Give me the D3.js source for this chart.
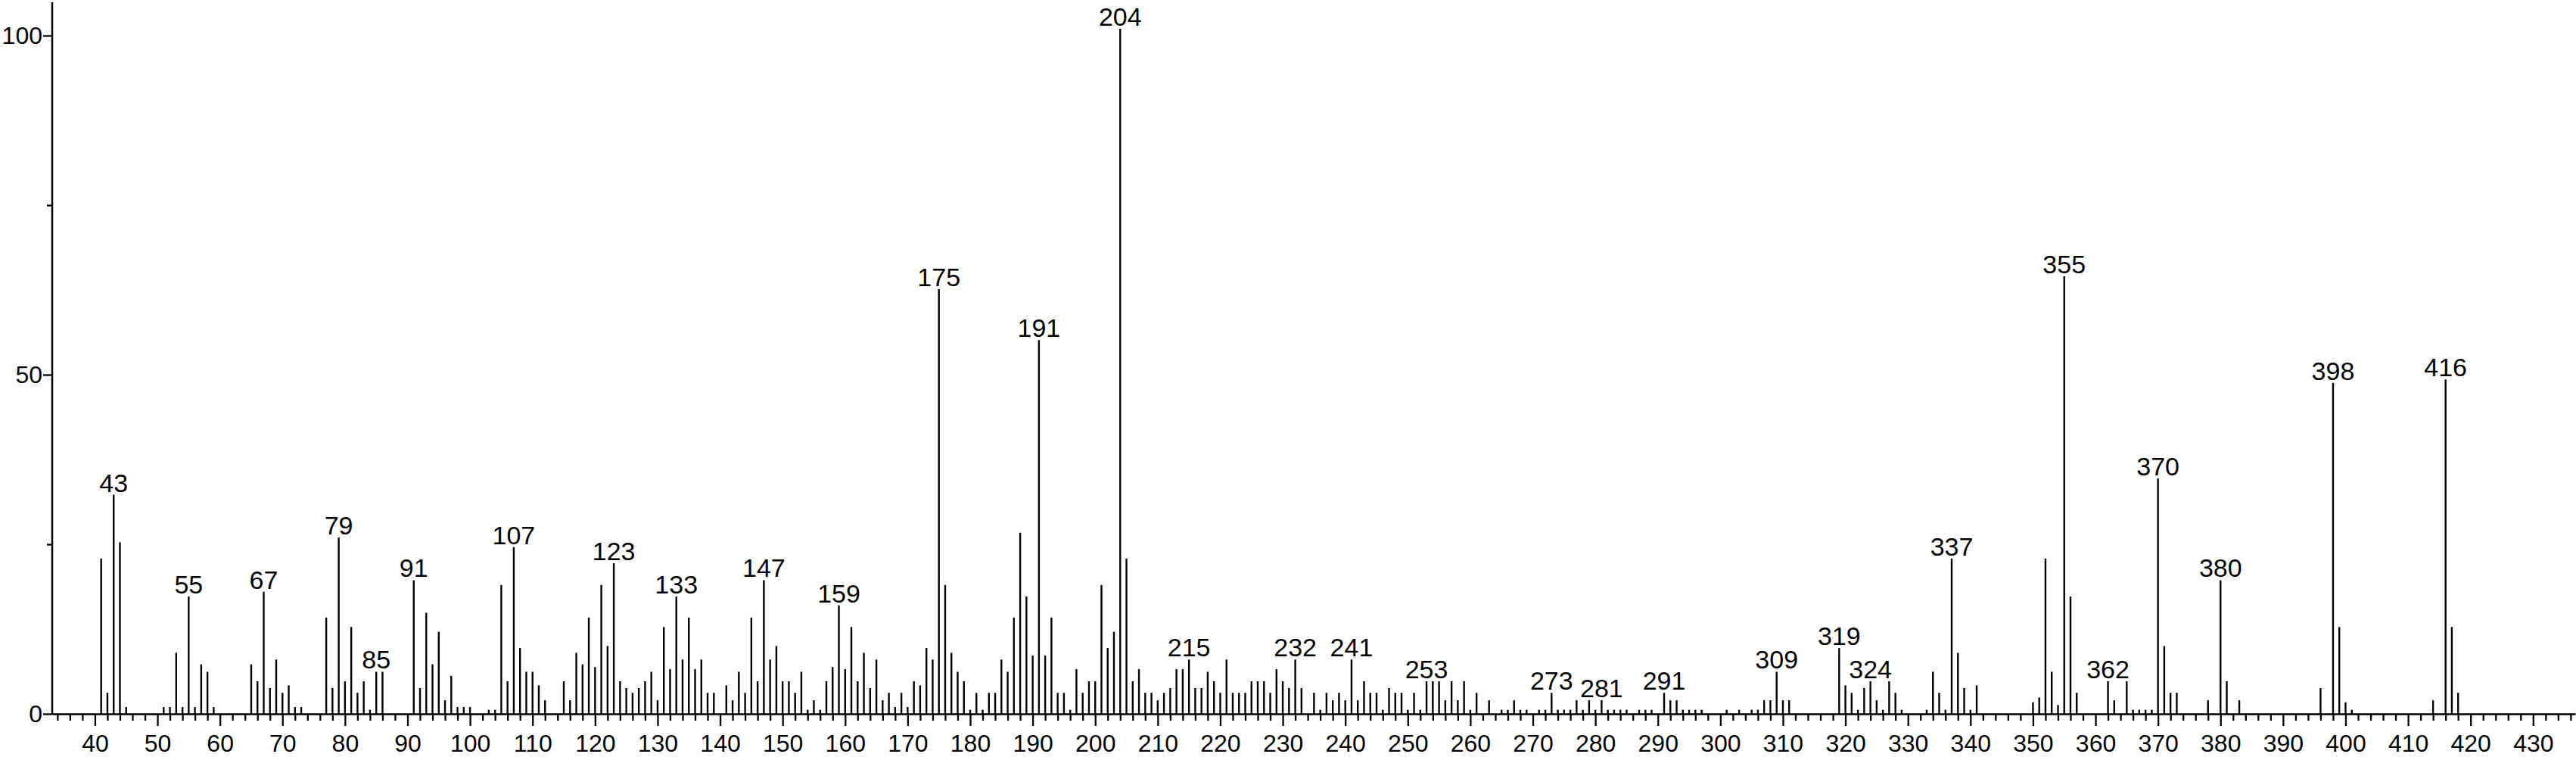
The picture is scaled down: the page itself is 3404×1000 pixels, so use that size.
<!DOCTYPE html>
<html>
<head>
<meta charset="utf-8">
<script src="https://cdn.jsdelivr.net/npm/d3@7"></script>
<style>
  html, body { margin: 0; padding: 0; background: #fff; }
  svg { display: block; }
  text { font-family: "Liberation Sans", Arial, Helvetica, sans-serif; fill: #000; }
</style>
</head>
<body>
<svg id="chart" width="3404" height="1000"></svg>
<script>
// m/z values of the peaks
const mz = [
  41,42,43,44,45,51,52,53,54,55,56,57,58,59,
  65,66,67,68,69,70,71,72,73,77,78,79,80,81,82,83,84,85,86,
  91,92,93,94,95,96,97,98,99,100,103,104,105,106,107,108,109,110,111,112,
  115,116,117,118,119,120,121,122,123,124,125,126,127,128,129,130,
  131,132,133,134,135,136,137,138,139,141,142,143,144,145,146,147,148,149,150,
  151,152,153,154,155,156,157,158,159,160,161,162,163,164,165,166,167,168,169,170,
  171,172,173,174,175,176,177,178,179,180,181,182,183,184,185,186,187,188,189,190,
  191,192,193,194,195,196,197,198,199,200,201,202,203,204,205,206,207,208,209,210,
  211,212,213,214,215,216,217,218,219,220,221,222,223,224,225,226,227,228,229,230,
  231,232,233,235,236,237,238,239,240,241,242,243,244,245,246,247,248,249,250,
  251,252,253,254,255,256,257,258,259,260,261,263,265,266,267,268,269,
  271,272,273,274,275,276,277,278,279,280,281,282,283,284,285,287,288,289,
  291,292,293,294,295,296,297,301,303,305,306,307,308,309,310,311,
  319,320,321,322,323,324,325,326,327,328,329,333,334,335,336,337,338,339,340,341,
  350,351,352,353,354,355,356,357,362,363,365,366,367,368,369,370,371,372,373,
  378,380,381,383,396,398,399,400,401,414,416,417,418
];
// relative intensities (%)
const intensity = [
  22.9,3.1,32.3,25.3,1.0,1.0,1.0,9.0,1.0,17.3,1.0,7.3,6.2,1.0,
  7.3,4.8,18.0,3.8,8.0,3.1,4.2,1.0,1.0,14.2,3.8,26.0,4.8,12.8,3.1,4.8,0.6,6.2,6.2,
  19.7,3.8,14.9,7.3,12.1,2.0,5.6,1.0,1.0,1.0,0.6,0.6,19.0,4.8,24.6,9.7,6.2,6.2,4.2,2.0,
  4.8,2.0,9.0,7.3,14.2,6.9,19.0,10.0,22.2,4.8,3.8,3.1,3.8,4.8,6.2,2.0,
  12.8,6.6,17.3,8.0,14.2,6.6,8.0,3.1,3.1,4.2,2.0,6.2,3.1,14.2,4.8,19.7,8.0,10.0,4.8,
  4.8,3.1,6.2,0.6,2.0,0.6,4.8,6.9,16.0,6.6,12.8,4.8,9.0,3.8,8.0,2.0,3.1,1.0,3.1,1.0,
  4.8,4.2,9.7,8.0,62.6,19.0,9.0,6.2,4.8,0.6,3.1,0.6,3.1,3.1,8.0,6.2,14.2,26.7,17.3,8.6,
  55.1,8.6,14.2,3.1,3.1,0.6,6.6,3.1,4.8,4.8,19.0,9.7,12.1,101,22.9,4.8,6.6,3.1,3.1,2.0,
  3.1,3.8,6.6,6.6,8.0,3.8,3.8,6.2,4.8,3.1,8.0,3.1,3.1,3.1,4.8,4.8,4.8,3.1,6.6,4.8,
  3.8,8.0,3.8,3.1,0.6,3.1,2.0,3.1,2.0,8.0,2.0,4.8,3.1,3.1,0.6,3.8,3.1,3.1,0.6,
  3.1,0.6,4.8,4.8,4.8,2.0,4.8,2.0,4.8,0.6,3.1,2.0,0.6,0.6,2.0,0.6,0.6,
  0.6,0.6,3.1,0.6,0.6,0.6,2.0,0.6,2.0,0.6,2.0,0.6,0.6,0.6,0.6,0.6,0.6,0.6,
  3.1,2.0,2.0,0.6,0.6,0.6,0.6,0.6,0.6,0.6,0.6,2.0,2.0,6.2,2.0,2.0,
  9.7,4.2,3.1,0.6,3.8,4.8,2.0,0.6,4.8,3.1,0.6,0.6,6.2,3.1,0.6,22.9,9.0,3.8,0.6,4.2,
  1.7,2.4,22.9,6.2,1.3,64.5,17.3,3.1,4.8,2.0,4.8,0.6,0.6,0.6,0.6,34.7,10.0,3.1,3.1,
  2.0,19.7,4.8,2.0,3.8,48.8,12.8,1.7,0.6,2.0,49.3,12.8,3.1
];
// peaks that carry an m/z label
const labeledPeaks = [43,55,67,79,85,91,107,123,133,147,159,175,191,204,215,232,241,253,273,281,291,309,319,324,337,355,362,370,380,398,416];
// axis ticks
const xMajorTicks = d3.range(40, 431, 10);
const xMinorTicks = d3.range(34, 437, 2).filter(v => v % 10 !== 0);
const yMajorTicks = [0, 50, 100];
const yMinorTicks = [25, 75];

const peaks = mz.map((m, i) => ({ mz: m, val: intensity[i] }));

const svg = d3.select("#chart");
const x = d3.scaleLinear().domain([33.17, 436.74]).range([69, 3403]);
const y = d3.scaleLinear().domain([0, 100]).range([943, 47]);
const yTop = 104.9;

// x axis minor ticks
svg.append("g")
  .attr("transform", `translate(0,${y(0)})`)
  .call(d3.axisBottom(x).tickValues(xMinorTicks).tickSize(9).tickFormat(""))
  .call(g => g.select(".domain").remove())
  .call(g => g.selectAll("line").attr("stroke", "#000").attr("stroke-width", 2.3));

// x axis major ticks + labels
svg.append("g")
  .attr("transform", `translate(0,${y(0)})`)
  .call(d3.axisBottom(x).tickValues(xMajorTicks).tickSize(16).tickSizeOuter(0).tickPadding(11))
  .call(g => g.select(".domain").attr("stroke", "#000").attr("stroke-width", 2.4))
  .call(g => g.selectAll(".tick line").attr("stroke", "#000").attr("stroke-width", 2.3))
  .call(g => g.selectAll("text").attr("font-size", 32).attr("font-family", "Liberation Sans, Arial, sans-serif").attr("fill", "#000"));

// y axis
svg.append("g").attr("transform", `translate(${x.range()[0]},0)`)
  .call(d3.axisLeft(y).tickValues(yMinorTicks).tickSize(7).tickFormat(""))
  .call(g => g.select(".domain").remove())
  .call(g => g.selectAll("line").attr("stroke", "#000").attr("stroke-width", 2.3));
svg.append("g").attr("transform", `translate(${x.range()[0]},0)`)
  .call(d3.axisLeft(y).tickValues(yMajorTicks).tickSize(12).tickPadding(1))
  .call(g => g.select(".domain").remove())
  .call(g => g.selectAll(".tick line").attr("stroke", "#000").attr("stroke-width", 2.3))
  .call(g => g.selectAll("text").attr("font-size", 32).attr("font-family", "Liberation Sans, Arial, sans-serif").attr("fill", "#000"));
svg.append("line")
  .attr("x1", x.range()[0]).attr("x2", x.range()[0])
  .attr("y1", y(0) + 1).attr("y2", y(yTop))
  .attr("stroke", "#000").attr("stroke-width", 2.5);

// sticks
svg.append("g").selectAll("line")
  .data(peaks)
  .join("line")
  .attr("x1", d => x(d.mz)).attr("x2", d => x(d.mz))
  .attr("y1", y(0)).attr("y2", d => y(d.val))
  .attr("stroke", "#000").attr("stroke-width", 2.4);

// peak labels
svg.append("g").selectAll("text")
  .data(peaks.filter(d => labeledPeaks.includes(d.mz)))
  .join("text")
  .attr("x", d => x(d.mz))
  .attr("y", d => y(d.val) - 4)
  .attr("text-anchor", "middle")
  .attr("font-size", 34)
  .text(d => d.mz);
</script>
</body>
</html>
